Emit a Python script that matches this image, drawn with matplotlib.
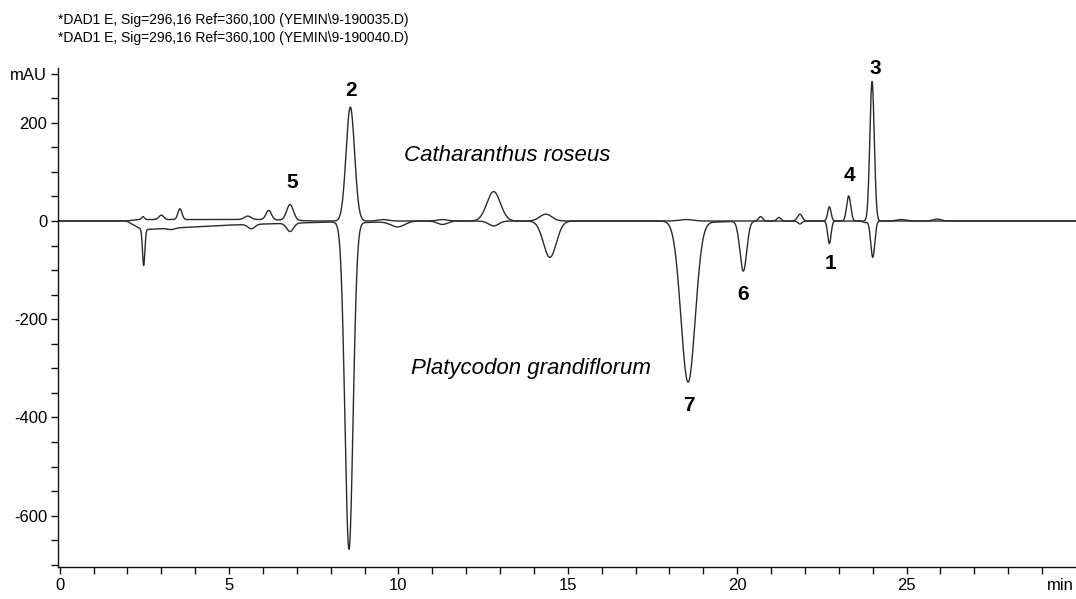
import numpy as np
import matplotlib
matplotlib.use("Agg")
import matplotlib.pyplot as plt

plt.rcParams['font.family'] = ['Liberation Sans', 'DejaVu Sans']

# ---- data ----
# Catharanthus roseus trace (positive): retention time (min), height (mAU), peak sigma (min)
cr_times = [2.46, 3.00, 3.55, 5.55, 6.17, 6.80, 8.58, 9.55, 11.30, 12.81, 14.35, 18.50, 20.69, 21.23, 21.85, 22.72, 23.29, 23.98, 24.85, 25.90]
cr_heights = [6, 9, 22, 7, 19, 32, 232, 3, 3, 60, 14, 3, 9, 7, 14, 29, 51, 284, 3, 4]
cr_sigmas = [0.04, 0.07, 0.06, 0.10, 0.08, 0.10, 0.125, 0.15, 0.15, 0.20, 0.18, 0.20, 0.06, 0.06, 0.07, 0.05, 0.06, 0.065, 0.15, 0.12]
cr_base_t = [0.0, 1.97, 2.30, 6.0, 7.6, 30.0]
cr_base_y = [0.0, 0.0, 3.0, 3.0, 0.0, 0.0]

# Platycodon grandiflorum trace (drawn negative)
pg_times = [2.48, 3.30, 5.66, 6.80, 8.54, 9.98, 11.30, 12.81, 14.47, 18.55, 19.40, 20.18, 21.85, 22.72, 23.77, 24.00]
pg_heights = [-74, -3, -9, -17, -666, -11, -7, -10, -74, -328, -2, -102, -6, -46, -3, -74]
pg_sigmas = [0.035, 0.10, 0.10, 0.10, 0.12, 0.20, 0.15, 0.15, 0.19, 0.21, 0.30, 0.10, 0.06, 0.05, 0.06, 0.06]
pg_base_t = [0.0, 1.97, 2.40, 2.60, 5.10, 8.00, 9.00, 10.5, 30.0]
pg_base_y = [0.0, 0.0, -16.0, -17.0, -8.0, -2.0, -3.0, 0.0, 0.0]

# peak numbers: label, x (min), y (mAU)
peak_labels = ["2", "5", "3", "4", "1", "6", "7"]
peak_label_x = [8.59, 6.85, 24.08, 23.32, 22.75, 20.18, 18.58]
peak_label_y = [265, 79, 311, 92, -86, -149, -376]

header_lines = ["*DAD1 E, Sig=296,16 Ref=360,100 (YEMIN\\9-190035.D)",
                "*DAD1 E, Sig=296,16 Ref=360,100 (YEMIN\\9-190040.D)"]

x_major = [0, 5, 10, 15, 20, 25]
y_major = [-600, -400, -200, 0, 200]


def trace(t, times, heights, sigmas, bt, by):
    y = np.interp(t, bt, by)
    for c, h, s in zip(times, heights, sigmas):
        y = y + h * np.exp(-0.5 * ((t - c) / s) ** 2)
    return y


t = np.linspace(0, 30, 6001)
y_cr = trace(t, cr_times, cr_heights, cr_sigmas, cr_base_t, cr_base_y)
y_pg = trace(t, pg_times, pg_heights, pg_sigmas, pg_base_t, pg_base_y)

fig = plt.figure(figsize=(10.76, 5.99), dpi=100)
ax = fig.add_axes([0.0542, 0.053, 0.9458, 0.833])
line_col = "#2a2a2a"
ax.plot(t, y_cr, color=line_col, lw=1.0)
ax.plot(t, y_pg, color=line_col, lw=1.0)

ax.set_xlim(-0.04, 30)
ax.set_ylim(-705, 311)
for s in ["top", "right"]:
    ax.spines[s].set_visible(False)
for s in ["left", "bottom"]:
    ax.spines[s].set_linewidth(1.0)
    ax.spines[s].set_color("#111111")

xt = list(range(0, 30))
ax.set_xticks(xt)
ax.set_xticklabels([str(v) if v in x_major else "" for v in xt])
yt = list(range(-700, 301, 50))
ax.set_yticks(yt)
ax.set_yticklabels(["mAU" if v == 300 else (str(v) if v in y_major else "") for v in yt])
ax.tick_params(axis="both", direction="out", length=5, width=1.0, color="#111111",
               labelsize=12, pad=3)
ax.annotate("min", xy=(29.55, 0), xycoords=("data", "axes fraction"),
            xytext=(0, -8), textcoords="offset points",
            ha="center", va="top", fontsize=12)

for lab, lx, ly in zip(peak_labels, peak_label_x, peak_label_y):
    ax.text(lx, ly, lab, ha="center", va="center", fontsize=15, fontweight="bold")

ax.text(13.2, 134, "Catharanthus roseus", ha="center", va="center", fontsize=16, style="italic")
ax.text(10.37, -300, "Platycodon grandiflorum", ha="left", va="center", fontsize=16, style="italic")

fig.text(58 / 1076, 1 - 20 / 599, header_lines[0], ha="left", va="center", fontsize=10.0)
fig.text(58 / 1076, 1 - 38 / 599, header_lines[1], ha="left", va="center", fontsize=10.0)

fig.savefig("out.png", dpi=100)
